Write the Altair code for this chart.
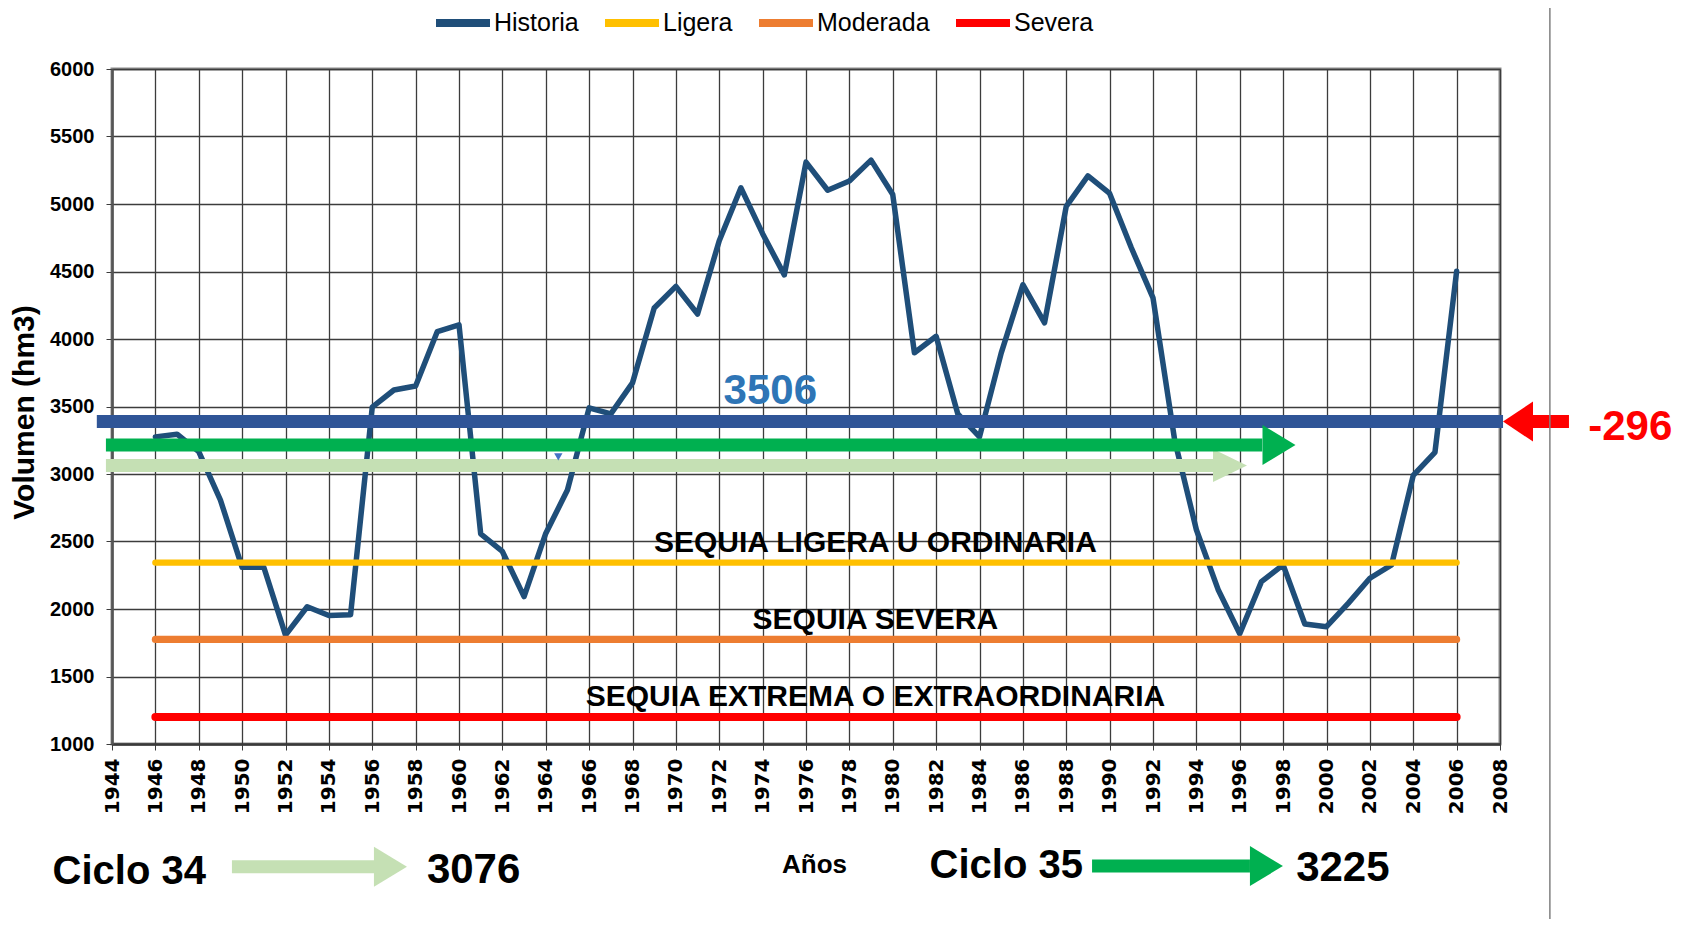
import altair as alt
import pandas as pd

# ---------------- data ----------------
years = list(range(1946, 2007))
historia = [3275, 3295, 3165, 2807, 2309, 2309, 1807, 2017, 1952, 1958,
            3495, 3622, 3652, 4055, 4105, 2557, 2426, 2092, 2560, 2881,
            3490, 3445, 3675, 4230, 4390, 4185, 4728, 5120, 4780, 4475,
            5310, 5102, 5170, 5325, 5070, 3898, 4020, 3445, 3275, 3895,
            4402, 4120, 4983, 5208, 5078, 4676, 4304, 3250, 2587, 2145,
            1817, 2203, 2327, 1889, 1869, 2042, 2228, 2327, 2990, 3160,
            4502]

series_names = ["Historia", "Ligera", "Moderada", "Severa"]
series_colors = ["#1f4e79", "#ffc000", "#ed7d31", "#ff0000"]
threshold_years = [1946, 2006]
threshold_values = [2344, 1775, 1200]

# horizontal reference bar (mean) and cycle arrows
media_value = 3388
media_span = [1943.3, 2008.14]
ciclo35_value = 3215
ciclo35_span = [1943.72, 1997.04]
ciclo35_head = 1997.81
ciclo34_value = 3063
ciclo34_span = [1943.72, 1994.78]
ciclo34_head = 1995.55
diff_span = [2009.52, 2011.18]
diff_head = 2008.83

marker_x = [1964.58]
marker_y = [3127]

# texts
band_labels = ["SEQUIA LIGERA U ORDINARIA", "SEQUIA SEVERA", "SEQUIA  EXTREMA O EXTRAORDINARIA"]
band_x = [1979.2, 1979.2, 1979.2]
band_y = [2425, 1855, 1280]

media_label = "3506"
media_label_pos = [1972.2, 3518]
diff_label = "-296"
diff_label_pos = [2012.07, 3252]

cycle_texts = ["Ciclo 34", "3076", "Ciclo 35", "3225"]
cycle_x = [1941.26, 1958.52, 1981.7, 1998.6]
cycle_y = [-38, -28, 10, -16]
cycle_sizes = [40, 42, 40, 42]

# bottom legend arrows
arrow34_span = [1949.53, 1956.08]
arrow34_head = 1956.84
arrow34_y = 91
arrow35_span = [1989.19, 1996.47]
arrow35_head = 1997.23
arrow35_y = 96

frame_x = [2010.30]

x_ticks = list(range(1944, 2009, 2))
y_ticks = list(range(1000, 6001, 500))

# ---------------- build tables ----------------
rows = [{"serie": "Historia", "year": y, "value": v} for y, v in zip(years, historia)]
for name, val in zip(series_names[1:], threshold_values):
    for y in threshold_years:
        rows.append({"serie": name, "year": y, "value": val})
lines_df = pd.DataFrame(rows)

FONT = "Liberation Sans, Arial, sans-serif"
GRID = "#3c3c3c"

xs = alt.Scale(domain=[1944, 2008], nice=False, zero=False)
ys = alt.Scale(domain=[1000, 6000], nice=False, zero=False)

x_axis = alt.Axis(values=x_ticks, format="d", labelAngle=270, labelFont="DejaVu Sans",
                  labelFontWeight="bold", labelFontSize=20, labelColor="#000000",
                  labelPadding=8, tickSize=6, tickColor=GRID, grid=True, gridColor=GRID,
                  gridWidth=1.3, gridOpacity=1, domainColor="#3a3a3a", domainWidth=2.5,
                  title="Años", titleFont=FONT, titleFontSize=26, titleFontWeight="bold",
                  titleColor="#000000", titleX=702, titleY=128, titleBaseline="alphabetic",
                  titleAlign="center", labelOverlap=False)
y_axis = alt.Axis(values=y_ticks, format="d", labelFont=FONT, labelFontWeight="bold",
                  labelFontSize=20, labelColor="#000000", labelPadding=12, tickSize=6,
                  tickColor=GRID, grid=True, gridColor=GRID, gridWidth=1.3, gridOpacity=1,
                  domainColor="#555555", domainWidth=2.5,
                  title="Volumen (hm3)", titleFont=FONT, titleFontSize=30,
                  titleFontWeight="bold", titleColor="#000000", titleAngle=270,
                  titleX=-88, titleY=343, titleAlign="center", titleBaseline="middle",
                  labelOverlap=False)

base_x = alt.X("year:Q", scale=xs, axis=x_axis)
base_y = alt.Y("value:Q", scale=ys, axis=y_axis)

lines = alt.Chart(lines_df).mark_line(strokeCap="round", strokeJoin="round").encode(
    x=base_x,
    y=base_y,
    color=alt.Color("serie:N", scale=alt.Scale(domain=series_names, range=series_colors),
                    sort=series_names,
                    legend=alt.Legend(orient="none", legendX=320, legendY=-77,
                                      direction="horizontal", title=None,
                                      symbolType="stroke", symbolSize=2916,
                                      symbolStrokeWidth=8, labelFont=FONT,
                                      labelFontSize=25, labelColor="#000000",
                                      labelOffset=0, columnPadding=10, padding=0,
                                      labelLimit=300)),
    strokeWidth=alt.StrokeWidth("serie:N", scale=alt.Scale(domain=series_names,
                                                           range=[5.5, 8, 8, 8]),
                                legend=None),
    detail="serie:N",
)


def shaft(x1, x2, yv, color, width=13):
    df = pd.DataFrame({"x1": [x1], "x2": [x2], "y": [yv]})
    return alt.Chart(df).mark_rule(color=color, strokeWidth=width, strokeCap="butt").encode(
        x=alt.X("x1:Q", scale=xs), x2="x2:Q", y=alt.Y("y:Q", scale=ys))


def head(xc, yv, color, path, size):
    df = pd.DataFrame({"x": [xc], "y": [yv]})
    return alt.Chart(df).mark_point(shape=path, filled=True, color=color, size=size,
                                    opacity=1, strokeWidth=0).encode(
        x=alt.X("x:Q", scale=xs), y=alt.Y("y:Q", scale=ys))


RIGHT = "M -0.825 -1 L 0.825 0 L -0.825 1 Z"
RIGHT_S = "M -1.03 -1 L 1.03 0 L -1.03 1 Z"
LEFT = "M 0.75 -1 L -0.75 0 L 0.75 1 Z"

GREEN = "#00b050"
LGREEN = "#c5e0b4"
BLUE = "#2f5597"
RED = "#ff0000"

media = shaft(media_span[0], media_span[1], media_value, BLUE)
c35 = shaft(ciclo35_span[0], ciclo35_span[1], ciclo35_value, GREEN)
c35h = head(ciclo35_head, ciclo35_value, GREEN, RIGHT, 1600)
c34 = shaft(ciclo34_span[0], ciclo34_span[1], ciclo34_value, LGREEN)
c34h = head(ciclo34_head, ciclo34_value, LGREEN, RIGHT_S, 1089)
dif = shaft(diff_span[0], diff_span[1], media_value, RED)
difh = head(diff_head, media_value, RED, LEFT, 1600)
a34 = shaft(arrow34_span[0], arrow34_span[1], arrow34_y, LGREEN)
a34h = head(arrow34_head, arrow34_y, LGREEN, RIGHT, 1600)
a35 = shaft(arrow35_span[0], arrow35_span[1], arrow35_y, GREEN)
a35h = head(arrow35_head, arrow35_y, GREEN, RIGHT, 1600)

marker = alt.Chart(pd.DataFrame({"x": marker_x, "y": marker_y})).mark_point(
    shape="triangle-down", filled=True, color="#4472c4", size=70, opacity=1).encode(
    x=alt.X("x:Q", scale=xs), y=alt.Y("y:Q", scale=ys))

band_text = alt.Chart(pd.DataFrame({"t": band_labels, "x": band_x, "y": band_y})).mark_text(
    font=FONT, fontSize=30, fontWeight="bold", color="#000000", align="center",
    baseline="alphabetic").encode(x=alt.X("x:Q", scale=xs), y=alt.Y("y:Q", scale=ys), text="t:N")

media_text = alt.Chart(pd.DataFrame({"t": [media_label], "x": [media_label_pos[0]],
                                     "y": [media_label_pos[1]]})).mark_text(
    font=FONT, fontSize=42, fontWeight="bold", color="#2e75b6", align="left",
    baseline="alphabetic").encode(x=alt.X("x:Q", scale=xs), y=alt.Y("y:Q", scale=ys), text="t:N")

diff_text = alt.Chart(pd.DataFrame({"t": [diff_label], "x": [diff_label_pos[0]],
                                    "y": [diff_label_pos[1]]})).mark_text(
    font=FONT, fontSize=42, fontWeight="bold", color=RED, align="left",
    baseline="alphabetic").encode(x=alt.X("x:Q", scale=xs), y=alt.Y("y:Q", scale=ys), text="t:N")

cycle_df = pd.DataFrame({"t": cycle_texts, "x": cycle_x, "y": cycle_y, "s": cycle_sizes})
cycle_text = alt.Chart(cycle_df).mark_text(
    font=FONT, fontWeight="bold", color="#000000", align="left",
    baseline="alphabetic").encode(x=alt.X("x:Q", scale=xs), y=alt.Y("y:Q", scale=ys),
                                  text="t:N",
                                  size=alt.Size("s:Q", scale=None, legend=None))

frame = alt.Chart(pd.DataFrame({"x": frame_x})).mark_rule(color="#808080", strokeWidth=1.5).encode(
    x=alt.X("x:Q", scale=xs), y=alt.value(-61), y2=alt.value(850))

chart = alt.layer(
    lines, media, c34, c34h, c35, c35h, marker, dif, difh,
    band_text, media_text, diff_text, a34, a34h, a35, a35h, cycle_text, frame
).resolve_scale(color="independent").properties(
    width=1388, height=675,
    autosize=alt.AutoSizeParams(type="none"),
    padding={"left": 104, "top": 61, "right": 178, "bottom": 175},
    background="white",
).configure_view(stroke="#8c8c8c", strokeWidth=3)

chart.save("out.html", embed_options={"renderer": "svg", "actions": False})
